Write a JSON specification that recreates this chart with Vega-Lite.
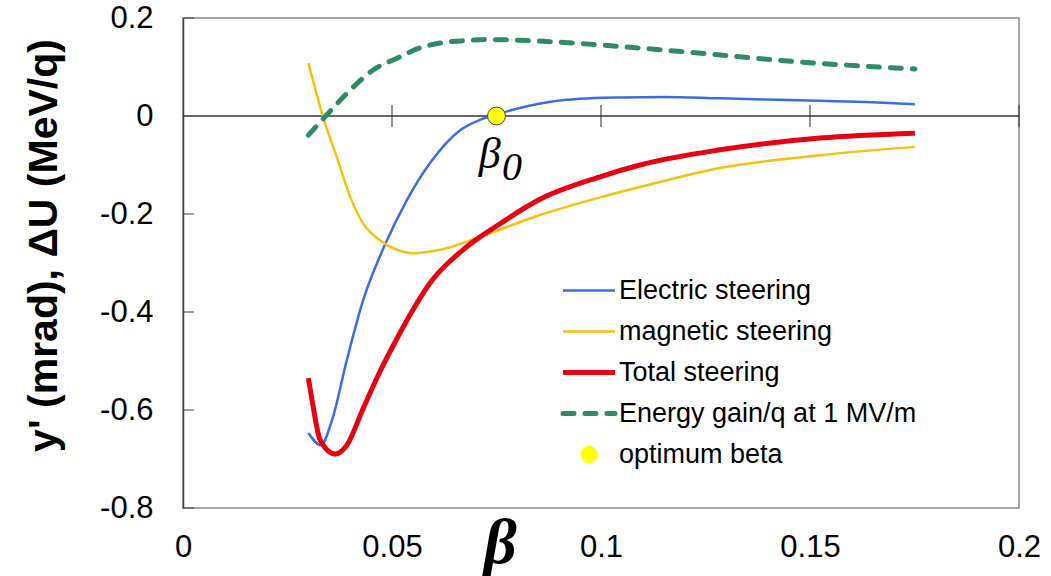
{
  "$schema": "https://vega.github.io/schema/vega-lite/v6.json",
  "width": 836,
  "height": 490,
  "autosize": "none",
  "padding": {"left": 183, "top": 18, "right": 32, "bottom": 68},
  "background": "white",
  "config": {
    "view": {"stroke": "#8a8a8a", "strokeWidth": 1.5},
    "font": "Liberation Sans"
  },
  "datasets": {
    "curves": [
      {"series": "Electric steering", "beta": 0.0300, "value": -0.647},
      {"series": "Electric steering", "beta": 0.0330, "value": -0.672},
      {"series": "Electric steering", "beta": 0.0355, "value": -0.625},
      {"series": "Electric steering", "beta": 0.0392, "value": -0.498},
      {"series": "Electric steering", "beta": 0.0431, "value": -0.376},
      {"series": "Electric steering", "beta": 0.0483, "value": -0.263},
      {"series": "Electric steering", "beta": 0.0536, "value": -0.171},
      {"series": "Electric steering", "beta": 0.0591, "value": -0.096},
      {"series": "Electric steering", "beta": 0.0663, "value": -0.029},
      {"series": "Electric steering", "beta": 0.0710, "value": -0.008},
      {"series": "Electric steering", "beta": 0.0750, "value": 0.003},
      {"series": "Electric steering", "beta": 0.0823, "value": 0.020},
      {"series": "Electric steering", "beta": 0.0880, "value": 0.029},
      {"series": "Electric steering", "beta": 0.0950, "value": 0.035},
      {"series": "Electric steering", "beta": 0.1050, "value": 0.038},
      {"series": "Electric steering", "beta": 0.1150, "value": 0.039},
      {"series": "Electric steering", "beta": 0.1285, "value": 0.036},
      {"series": "Electric steering", "beta": 0.1524, "value": 0.031},
      {"series": "Electric steering", "beta": 0.1650, "value": 0.028},
      {"series": "Electric steering", "beta": 0.1751, "value": 0.024},

      {"series": "magnetic steering", "beta": 0.0300, "value": 0.108},
      {"series": "magnetic steering", "beta": 0.0318, "value": 0.050},
      {"series": "magnetic steering", "beta": 0.0335, "value": -0.002},
      {"series": "magnetic steering", "beta": 0.0368, "value": -0.084},
      {"series": "magnetic steering", "beta": 0.0400, "value": -0.165},
      {"series": "magnetic steering", "beta": 0.0430, "value": -0.218},
      {"series": "magnetic steering", "beta": 0.0470, "value": -0.253},
      {"series": "magnetic steering", "beta": 0.0512, "value": -0.273},
      {"series": "magnetic steering", "beta": 0.0550, "value": -0.280},
      {"series": "magnetic steering", "beta": 0.0615, "value": -0.273},
      {"series": "magnetic steering", "beta": 0.0710, "value": -0.247},
      {"series": "magnetic steering", "beta": 0.0854, "value": -0.202},
      {"series": "magnetic steering", "beta": 0.0998, "value": -0.166},
      {"series": "magnetic steering", "beta": 0.1093, "value": -0.145},
      {"series": "magnetic steering", "beta": 0.1285, "value": -0.106},
      {"series": "magnetic steering", "beta": 0.1524, "value": -0.080},
      {"series": "magnetic steering", "beta": 0.1751, "value": -0.063},

      {"series": "Total steering", "beta": 0.0300, "value": -0.535},
      {"series": "Total steering", "beta": 0.0310, "value": -0.586},
      {"series": "Total steering", "beta": 0.0328, "value": -0.661},
      {"series": "Total steering", "beta": 0.0364, "value": -0.690},
      {"series": "Total steering", "beta": 0.0392, "value": -0.672},
      {"series": "Total steering", "beta": 0.0431, "value": -0.597},
      {"series": "Total steering", "beta": 0.0471, "value": -0.522},
      {"series": "Total steering", "beta": 0.0512, "value": -0.454},
      {"series": "Total steering", "beta": 0.0550, "value": -0.396},
      {"series": "Total steering", "beta": 0.0591, "value": -0.341},
      {"series": "Total steering", "beta": 0.0670, "value": -0.273},
      {"series": "Total steering", "beta": 0.0751, "value": -0.224},
      {"series": "Total steering", "beta": 0.0854, "value": -0.170},
      {"series": "Total steering", "beta": 0.0998, "value": -0.124},
      {"series": "Total steering", "beta": 0.1093, "value": -0.100},
      {"series": "Total steering", "beta": 0.1285, "value": -0.069},
      {"series": "Total steering", "beta": 0.1524, "value": -0.045},
      {"series": "Total steering", "beta": 0.1751, "value": -0.035},

      {"series": "Energy gain/q at 1 MV/m", "beta": 0.0300, "value": -0.039},
      {"series": "Energy gain/q at 1 MV/m", "beta": 0.0350, "value": 0.008},
      {"series": "Energy gain/q at 1 MV/m", "beta": 0.0400, "value": 0.053},
      {"series": "Energy gain/q at 1 MV/m", "beta": 0.0455, "value": 0.094},
      {"series": "Energy gain/q at 1 MV/m", "beta": 0.0512, "value": 0.118},
      {"series": "Energy gain/q at 1 MV/m", "beta": 0.0567, "value": 0.139},
      {"series": "Energy gain/q at 1 MV/m", "beta": 0.0615, "value": 0.149},
      {"series": "Energy gain/q at 1 MV/m", "beta": 0.0680, "value": 0.154},
      {"series": "Energy gain/q at 1 MV/m", "beta": 0.0727, "value": 0.156},
      {"series": "Energy gain/q at 1 MV/m", "beta": 0.0790, "value": 0.155},
      {"series": "Energy gain/q at 1 MV/m", "beta": 0.0895, "value": 0.151},
      {"series": "Energy gain/q at 1 MV/m", "beta": 0.0998, "value": 0.145},
      {"series": "Energy gain/q at 1 MV/m", "beta": 0.1240, "value": 0.128},
      {"series": "Energy gain/q at 1 MV/m", "beta": 0.1480, "value": 0.110},
      {"series": "Energy gain/q at 1 MV/m", "beta": 0.1751, "value": 0.096}
    ]
  },
  "encoding": {
    "x": {"field": "beta", "type": "quantitative", "scale": {"domain": [0, 0.2], "nice": false, "zero": false},
      "axis": {
        "values": [0, 0.05, 0.1, 0.15, 0.2], "format": "~g", "labelFlush": false, "labelOverlap": false,
        "labelFontSize": 31, "labelFont": "Liberation Sans", "labelColor": "#000000", "labelPadding": 24,
        "domain": false, "ticks": false, "grid": false,
        "title": "β", "titleFont": "Liberation Serif", "titleFontStyle": "italic", "titleFontWeight": "bold",
        "titleFontSize": 64, "titleColor": "#000000", "titleX": 317, "titleY": 54, "titleBaseline": "alphabetic", "titleAlign": "center"
      }
    },
    "y": {"field": "value", "type": "quantitative", "scale": {"domain": [-0.8, 0.2], "nice": false, "zero": false},
      "axis": {
        "values": [-0.8, -0.6, -0.4, -0.2, 0, 0.2],
        "labelExpr": "replace(format(datum.value, '~g'), '−', '-')",
        "labelFontSize": 31, "labelFont": "Liberation Sans", "labelColor": "#000000",
        "labelPadding": 30, "ticks": false,
        "domainColor": "#444444", "domainWidth": 1.5, "grid": false,
        "title": "y' (mrad), ΔU (MeV/q)", "titleFontSize": 41, "titleFontWeight": "bold",
        "titleFont": "Liberation Sans", "titleColor": "#000000", "titlePadding": 34, "titleY": 227
      }
    }
  },
  "layer": [
    {
      "data": {"values": [{"beta": 0, "value": 0}, {"beta": 0.2, "value": 0}]},
      "mark": {"type": "line", "color": "#333333", "strokeWidth": 1.5}
    },
    {
      "data": {"values": [{"beta": 0.05, "value": 0}, {"beta": 0.1, "value": 0}, {"beta": 0.15, "value": 0}, {"beta": 0.2, "value": 0}]},
      "mark": {"type": "tick", "orient": "vertical", "size": 22, "thickness": 1.5, "color": "#333333"}
    },
    {
      "data": {"values": [{"beta": 0, "value": -0.8}, {"beta": 0, "value": -0.6}, {"beta": 0, "value": -0.4}, {"beta": 0, "value": -0.2}, {"beta": 0, "value": 0.2}]},
      "mark": {"type": "tick", "orient": "horizontal", "size": 11, "thickness": 1.5, "xOffset": 5.5, "color": "#444444"}
    },
    {
      "data": {"name": "curves"},
      "transform": [{"filter": {"field": "series", "oneOf": ["Electric steering", "magnetic steering"]}}],
      "mark": {"type": "line", "strokeWidth": 2.5, "interpolate": "monotone"},
      "encoding": {
        "color": {"field": "series", "type": "nominal",
          "scale": {"domain": ["Electric steering", "magnetic steering", "Total steering", "Energy gain/q at 1 MV/m", "optimum beta"],
                    "range": ["#3A6EE0", "#F4C20D", "#E60012", "#2E8B64", "#FFFF00"]},
          "legend": {
            "orient": "none", "legendX": 380, "legendY": 259, "padding": 0, "title": null,
            "symbolSize": 400, "labelOffset": 29, "rowPadding": 13,
            "labelFontSize": 27, "labelFont": "Liberation Sans", "labelColor": "#000000", "labelLimit": 600,
            "encode": {
              "symbols": {"update": {
                "shape": {"signal": "datum.value === 'optimum beta' ? 'circle' : 'stroke'"},
                "size": {"signal": "datum.value === 'optimum beta' ? 250 : 2704"},
                "x": {"value": 26},
                "strokeWidth": {"signal": "datum.value === 'optimum beta' ? 1.5 : (datum.value === 'Total steering' || datum.value === 'Energy gain/q at 1 MV/m' ? 5 : 2.5)"},
                "strokeDash": {"signal": "datum.value === 'Energy gain/q at 1 MV/m' ? [11, 11] : []"},
                "strokeCap": {"signal": "datum.value === 'Energy gain/q at 1 MV/m' ? 'round' : 'butt'"},
                "fill": {"signal": "datum.value === 'optimum beta' ? '#FFFF00' : 'transparent'"},
                "stroke": {"signal": "datum.value === 'optimum beta' ? '#444444' : scale('color', datum.value)"},
                "strokeOpacity": {"value": 1},
                "fillOpacity": {"value": 1},
                "opacity": {"value": 1}
              }}
            }
          }
        }
      }
    },
    {
      "data": {"name": "curves"},
      "transform": [{"filter": {"field": "series", "equal": "Total steering"}}],
      "mark": {"type": "line", "strokeWidth": 5, "interpolate": "monotone"},
      "encoding": {
        "color": {"field": "series", "type": "nominal", "legend": null}
      }
    },
    {
      "data": {"name": "curves"},
      "transform": [{"filter": {"field": "series", "equal": "Energy gain/q at 1 MV/m"}}],
      "mark": {"type": "line", "strokeWidth": 5, "strokeDash": [11, 11], "strokeCap": "round", "interpolate": "monotone"},
      "encoding": {
        "color": {"field": "series", "type": "nominal", "legend": null}
      }
    },
    {
      "data": {"values": [{"beta": 0.075, "value": 0}]},
      "mark": {"type": "point", "filled": true, "fill": "#FFFF00", "stroke": "#444444", "strokeWidth": 1, "size": 320, "opacity": 1}
    },
    {
      "data": {"values": [{"beta": 0.0734, "value": -0.106, "label": "β"}]},
      "mark": {"type": "text", "font": "Liberation Serif", "fontStyle": "italic", "fontSize": 44, "align": "center", "baseline": "alphabetic", "color": "#000000"},
      "encoding": {"text": {"field": "label"}}
    },
    {
      "data": {"values": [{"beta": 0.0787, "value": -0.1306, "label": "0"}]},
      "mark": {"type": "text", "font": "Liberation Serif", "fontStyle": "italic", "fontSize": 40, "align": "center", "baseline": "alphabetic", "color": "#000000"},
      "encoding": {"text": {"field": "label"}}
    }
  ]
}
